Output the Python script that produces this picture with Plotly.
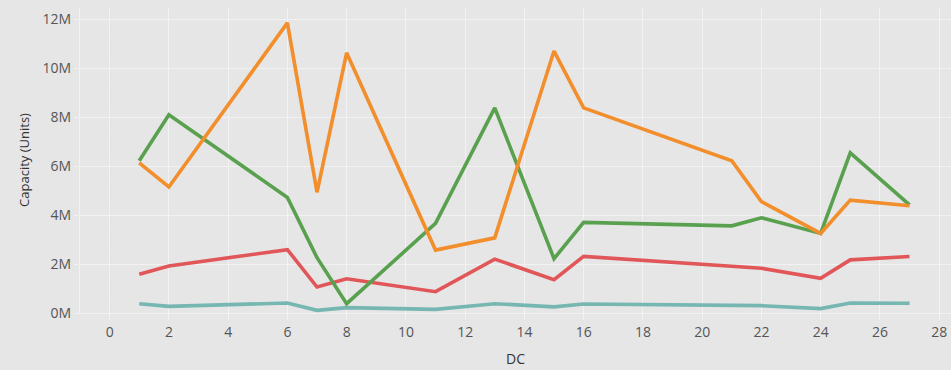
import plotly.graph_objects as go

# Distribution centres and capacity (units) per series
dc = [1, 2, 6, 7, 8, 11, 13, 15, 16, 21, 22, 24, 25, 27]

cap_teal = [0.38e6, 0.27e6, 0.41e6, 0.11e6, 0.22e6, 0.15e6, 0.38e6, 0.25e6, 0.37e6, 0.33e6, 0.30e6, 0.18e6, 0.41e6, 0.40e6]
cap_red = [1.58e6, 1.92e6, 2.59e6, 1.06e6, 1.40e6, 0.87e6, 2.20e6, 1.36e6, 2.31e6, 1.92e6, 1.83e6, 1.42e6, 2.17e6, 2.31e6]
cap_green = [6.22e6, 8.10e6, 4.72e6, 2.26e6, 0.38e6, 3.66e6, 8.38e6, 2.22e6, 3.70e6, 3.56e6, 3.89e6, 3.25e6, 6.54e6, 4.42e6]
cap_orange = [6.13e6, 5.15e6, 11.85e6, 4.93e6, 10.63e6, 2.57e6, 3.07e6, 10.70e6, 8.38e6, 6.22e6, 4.55e6, 3.25e6, 4.61e6, 4.38e6]

x_ticks = [0, 2, 4, 6, 8, 10, 12, 14, 16, 18, 20, 22, 24, 26, 28]
y_ticks = [0, 2e6, 4e6, 6e6, 8e6, 10e6, 12e6]
y_tick_text = ["0M", "2M", "4M", "6M", "8M", "10M", "12M"]

series = [
    (cap_teal, "#76b7b2"),
    (cap_red, "#e15759"),
    (cap_green, "#59a14f"),
    (cap_orange, "#f28e2b"),
]

fig = go.Figure()
for values, color in series:
    fig.add_trace(go.Scatter(
        x=dc, y=values, mode="lines",
        line=dict(color=color, width=3.6),
        showlegend=False,
    ))

# dotted reference line at DC = 0
fig.add_shape(type="line", xref="x", yref="paper", x0=0, x1=0, y0=0, y1=1,
              line=dict(color="#c4c4c4", width=1, dash="dot"), layer="below")

bg = "#e6e6e6"
grid = "#f2f2f2"
fig.update_layout(
    width=951, height=370,
    margin=dict(l=80, r=0, t=7, b=57),
    paper_bgcolor=bg, plot_bgcolor=bg,
    font=dict(family="Open Sans, sans-serif", color="#555555", size=14),
    xaxis=dict(
        range=[-1.0, 28.4],
        tickvals=x_ticks,
        showgrid=True, gridcolor=grid, gridwidth=1,
        zeroline=False,
        showline=True, linecolor=grid, linewidth=1,
        ticks="outside", ticklen=6, tickcolor=grid,
        tickfont=dict(size=14, color="#555555"),
        title=dict(text="DC", font=dict(size=14, color="#333333"), standoff=14),
    ),
    yaxis=dict(
        range=[0, 12.5e6],
        tickvals=y_ticks, ticktext=y_tick_text,
        showgrid=True, gridcolor=grid, gridwidth=1,
        zeroline=False,
        showline=True, linecolor=grid, linewidth=1,
        ticks="outside", ticklen=5, tickcolor=grid,
        tickfont=dict(size=14, color="#555555"),
        title=dict(text="Capacity (Units)", font=dict(size=13, color="#333333"), standoff=10),
    ),
)

fig.write_html("out.html")
